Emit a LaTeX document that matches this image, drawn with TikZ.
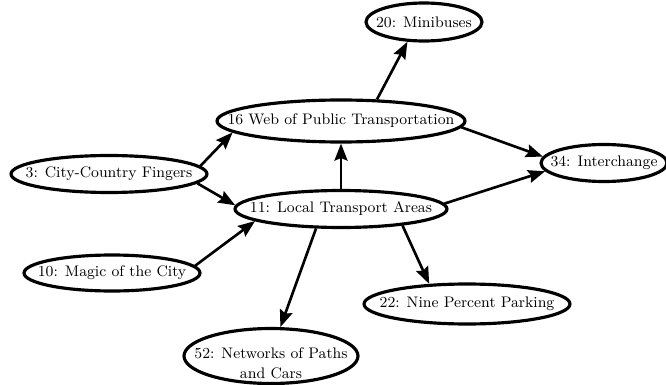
\documentclass[tikz,border=0pt]{standalone}
\usepackage{tikz}
\usetikzlibrary{shapes.geometric,arrows.meta}
\newcommand{\ptext}[1]{\makebox[0pt]{#1}}
\tikzset{
    pattern/.style={ellipse,draw,line width=1.8pt,inner sep=0pt,font=\fontsize{8.7}{11.4}\selectfont},
    link/.style={-{Stealth[length=3.4mm,width=2.6mm,inset=0.5mm]},line width=1.5pt}
}

\begin{document}
\begin{tikzpicture}[x=0.02cm,y=-0.02cm]
    \useasboundingbox (0,0) rectangle (666,385);
    \node[pattern,minimum width=2.32cm,minimum height=0.76cm] (mini) at (424,22){\ptext{20: Minibuses}};
    \node[pattern,minimum width=4.96cm,minimum height=0.84cm] (web) at (341,121){\ptext{16 Web of Public Transportation}};
    \node[pattern,minimum width=2.52cm,minimum height=0.74cm] (inter) at (604,163){\ptext{34: Interchange}};
    \node[pattern,minimum width=3.92cm,minimum height=0.74cm] (city) at (109,174){\ptext{3: City-Country Fingers}};
    \node[pattern,minimum width=4.24cm,minimum height=0.74cm] (local) at (341,209){\ptext{11: Local Transport Areas}};
    \node[pattern,minimum width=3.52cm,minimum height=0.72cm] (magic) at (112,273){\ptext{10: Magic of the City}};
    \node[pattern,minimum width=4.12cm,minimum height=0.80cm] (nine) at (467,304){\ptext{22: Nine Percent Parking}};
    \node[pattern,minimum width=3.48cm,minimum height=1.10cm] (paths) at (271,356){\ptext{\raisebox{-7pt}[0pt][0pt]{\begin{tabular}{@{}c@{}}52: Networks of Paths\\and Cars\end{tabular}}}};
    \draw[link] (city.5)--(web.186);
    \draw[link] (city.-6)--(local.178);
    \draw[link] (magic.5)--(local.188);
    \draw[link] (local.90)--(web.270);
    \draw[link] (web.31)--(mini.230);
    \draw[link] (web.-3)--(inter.174);
    \draw[link] (local.3)--(inter.188);
    \draw[link] (local.218)--(paths.72);
    \draw[link] (local.-15)--(nine.152);
\end{tikzpicture}
\end{document}
